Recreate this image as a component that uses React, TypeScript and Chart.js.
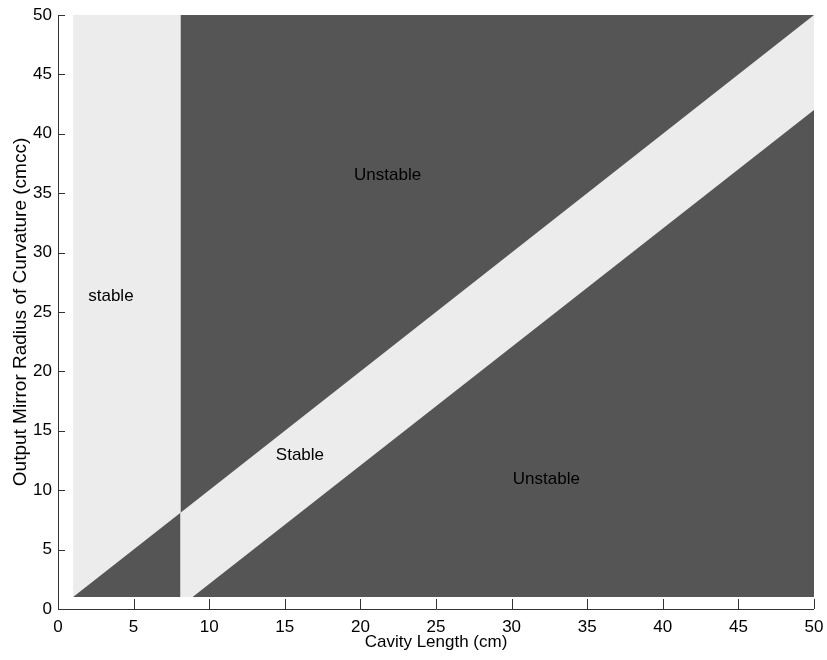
import React, { useEffect, useRef } from "react";
import { Chart, registerables } from "chart.js";

Chart.register(...registerables);

// Axis ticks
const xTicks = [0, 5, 10, 15, 20, 25, 30, 35, 40, 45, 50];
const yTicks = [0, 5, 10, 15, 20, 25, 30, 35, 40, 45, 50];

// Computed domain of the stability map
const domainX = [1, 50];
const domainY = [1, 50];

// Boundaries
const leftEdgeX = [1, 8.1];
const leftEdgeY = [1, 8.1];
const upperEdgeX = [8.1, 50];
const upperEdgeY = [8.1, 50];
const lowerEdgeX = [8.9, 50];
const lowerEdgeY = [1, 42];

// Region labels
const labelTexts = ["Unstable", "stable", "Stable", "Unstable"];
const labelX = [21.8, 3.5, 16.0, 32.3];
const labelY = [36.5, 26.3, 12.9, 10.9];

const LIGHT = "#ececec";
const DARK = "#555555";
const FONT = "'Liberation Sans', Arial, Helvetica, sans-serif";

const pts = (xs: number[], ys: number[]) => xs.map((x, i) => ({ x, y: ys[i] }));

export default function App() {
  const ref = useRef<HTMLCanvasElement | null>(null);

  useEffect(() => {
    document.body.style.margin = "0";
    const canvas = ref.current;
    if (!canvas) return;

    const base = {
      borderWidth: 0,
      borderColor: "rgba(0,0,0,0)",
      pointRadius: 0,
      pointHoverRadius: 0,
      tension: 0,
    };

    const overlay = {
      id: "overlay",
      afterDatasetsDraw(chart: any) {
        const { ctx, scales } = chart;
        const xs = scales.x;
        const ys = scales.y;
        ctx.save();
        ctx.fillStyle = "#000";
        ctx.font = `17px ${FONT}`;
        ctx.textAlign = "center";
        ctx.textBaseline = "middle";
        labelTexts.forEach((t, i) => {
          ctx.fillText(t, xs.getPixelForValue(labelX[i]), ys.getPixelForValue(labelY[i]));
        });
        ctx.restore();
      },
      afterDraw(chart: any) {
        const { ctx, scales, chartArea } = chart;
        const xs = scales.x;
        const ys = scales.y;
        ctx.save();
        ctx.strokeStyle = "#333";
        ctx.lineWidth = 1;
        ctx.beginPath();
        ctx.moveTo(chartArea.left + 0.5, chartArea.top);
        ctx.lineTo(chartArea.left + 0.5, chartArea.bottom + 0.5);
        ctx.lineTo(chartArea.right, chartArea.bottom + 0.5);
        xTicks.forEach((v) => {
          const px = Math.round(xs.getPixelForValue(v)) + 0.5;
          ctx.moveTo(px, chartArea.bottom);
          ctx.lineTo(px, chartArea.bottom - 10);
        });
        yTicks.forEach((v) => {
          const py = Math.round(ys.getPixelForValue(v)) + 0.5;
          ctx.moveTo(chartArea.left, py);
          ctx.lineTo(chartArea.left + 7, py);
        });
        ctx.stroke();
        ctx.restore();
      },
    };

    const chart = new Chart(canvas, {
      type: "line",
      data: {
        datasets: [
          {
            ...base,
            label: "stable domain",
            data: [
              { x: domainX[0], y: domainY[1] },
              { x: domainX[1], y: domainY[1] },
            ],
            fill: { value: domainY[0] },
            backgroundColor: LIGHT,
            order: 10,
          },
          {
            ...base,
            label: "unstable left",
            data: pts(leftEdgeX, leftEdgeY),
            fill: { value: domainY[0] },
            backgroundColor: DARK,
            order: 1,
          },
          {
            ...base,
            label: "unstable upper",
            data: pts(upperEdgeX, upperEdgeY),
            fill: "end",
            backgroundColor: DARK,
            order: 1,
          },
          {
            ...base,
            label: "unstable lower",
            data: pts(lowerEdgeX, lowerEdgeY),
            fill: { value: domainY[0] },
            backgroundColor: DARK,
            order: 1,
          },
        ],
      },
      options: {
        animation: false,
        responsive: false,
        maintainAspectRatio: false,
        layout: { padding: { top: 15, right: 13, left: 0, bottom: 0 } },
        plugins: {
          legend: { display: false },
          tooltip: { enabled: false },
        },
        scales: {
          x: {
            type: "linear",
            min: 0,
            max: 50,
            afterBuildTicks: (s: any) => {
              s.ticks = xTicks.map((v) => ({ value: v }));
            },
            afterFit: (s: any) => {
              s.height = 51;
              s.paddingLeft = 0;
              s.paddingRight = 0;
            },
            grid: { display: false, drawTicks: false },
            border: { display: false },
            ticks: {
              color: "#000",
              padding: 8,
              maxRotation: 0,
              autoSkip: false,
              font: { family: FONT, size: 17 },
            },
            title: {
              display: true,
              text: "Cavity Length (cm)",
              color: "#000",
              font: { family: FONT, size: 17 },
              padding: { top: 0, bottom: 7 },
            },
          },
          y: {
            type: "linear",
            min: 0,
            max: 50,
            afterBuildTicks: (s: any) => {
              s.ticks = yTicks.map((v) => ({ value: v }));
            },
            afterFit: (s: any) => {
              s.width = 58;
              s.paddingTop = 0;
              s.paddingBottom = 0;
            },
            grid: { display: false, drawTicks: false },
            border: { display: false },
            ticks: {
              color: "#000",
              padding: 6,
              autoSkip: false,
              font: { family: FONT, size: 17 },
            },
            title: {
              display: true,
              text: "Output Mirror Radius of Curvature (cmcc)",
              color: "#000",
              font: { family: FONT, size: 19 },
              padding: { top: 9, bottom: 0 },
            },
          },
        },
      },
      plugins: [overlay],
    } as any);

    return () => chart.destroy();
  }, []);

  return (
    <div style={{ width: 827, height: 660, background: "#fff" }}>
      <canvas ref={ref} width={827} height={660} style={{ width: 827, height: 660, display: "block" }} />
    </div>
  );
}
